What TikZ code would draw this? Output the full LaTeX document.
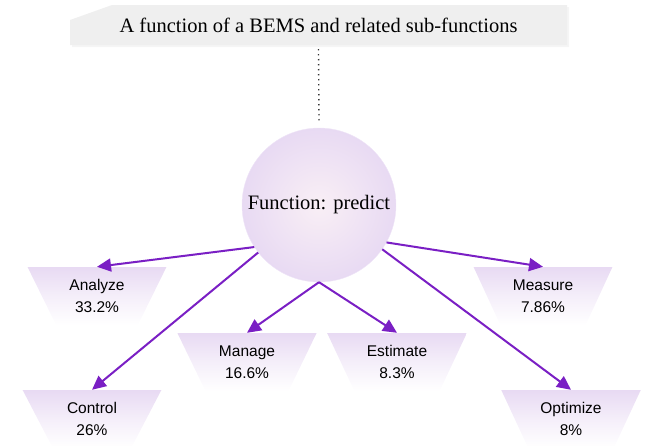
\documentclass[tikz,border=0pt]{standalone}
\usepackage{fontspec}
\setmainfont{Liberation Serif}
\newfontfamily\labelfont{Liberation Sans}
\usetikzlibrary{shapes.geometric,arrows.meta}

\definecolor{arrowpurple}{RGB}{122,31,196}
\definecolor{lavender}{RGB}{232,218,243}
\definecolor{lavcore}{RGB}{249,239,245}
\definecolor{bannergray}{RGB}{239,239,239}

\tikzset{
  subfn/.style={trapezium, trapezium left angle=60, trapezium right angle=60,
    shape border rotate=180, trapezium stretches=true,
    minimum width=140pt, minimum height=58pt, inner sep=0pt,
    top color=lavender, bottom color=white, middle color=lavender!45,
    draw=none,
    font=\labelfont\fontsize{15.5}{22}\selectfont, align=center},
  mainfn/.style={circle, minimum size=154pt, inner sep=0pt,
    inner color=lavcore, outer color=lavender, draw=lavender!70,
    font=\fontsize{20.5}{24}\selectfont},
  link/.style={draw=arrowpurple, line width=2pt,
    -{Triangle[length=14pt,width=13pt]}},
}

\begin{document}
\begin{tikzpicture}[x=1pt,y=-1pt]
  \useasboundingbox (0,0) rectangle (653,445);

  % heading banner with clipped top-left corner
  \fill[black!4] (72,22) -- (114,7) -- (569,7) -- (569,47) -- (72,47) -- cycle;
  \fill[bannergray] (70,20) -- (112,5) -- (567,5) -- (567,45) -- (70,45) -- cycle;
  \node[font=\fontsize{20.5}{24}\selectfont] (ttl) at (318.5,25)
    {A function of a BEMS and related sub-functions};
  \coordinate (dtop) at (318.5,49);

  % central function
  \node[mainfn] (fn) at (319,205) {Function: predict};

  \draw[dash pattern=on 1.4pt off 3.6pt, line width=1.4pt, black!80]
    (dtop) -- ([yshift=6pt]fn.north);

  % sub-functions
  \node[subfn] (an) at (97,296) {Analyze\\33.2\%};
  \node[subfn] (ms) at (543,296) {Measure\\7.86\%};
  \node[subfn] (mg) at (247,362) {Manage\\16.6\%};
  \node[subfn] (es) at (397,362) {Estimate\\8.3\%};
  \node[subfn] (ct) at (92,419) {Control\\26\%};
  \node[subfn] (op) at (571,419) {Optimize\\8\%};

  % connectors
  \draw[link] (fn.213) -- (an.north);
  \draw[link] (fn.218) -- (ct.north);
  \draw[link] (fn.south) -- (mg.north);
  \draw[link] (fn.south) -- (es.north);
  \draw[link] (fn.-29) -- (ms.north);
  \draw[link] (fn.-35.5) -- (op.north);
\end{tikzpicture}
\end{document}
